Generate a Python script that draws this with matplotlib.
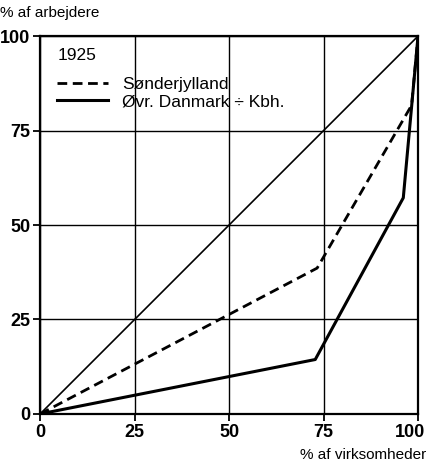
import matplotlib.pyplot as plt
from matplotlib.transforms import ScaledTranslation

# Lorenz-type curves, 1925
diag_x = [0, 100]
diag_y = [0, 100]

sj_x = [0, 73.3, 98.3, 100]
sj_y = [0, 38.6, 81.7, 100]

dk_x = [0, 72.8, 96.1, 100]
dk_y = [0, 14.4, 57.2, 100]

ticks = [0, 25, 50, 75, 100]

plt.rcParams['font.family'] = ['Liberation Sans', 'DejaVu Sans']

fig = plt.figure(figsize=(4.27, 4.63), dpi=100)
ax = fig.add_axes([0.094, 0.106, 0.885, 0.816])

ax.plot(diag_x, diag_y, color='black', lw=1.2)
ax.plot(sj_x, sj_y, color='black', lw=2.0, ls=(0, (3.5, 2)), label='Sønderjylland')
ax.plot(dk_x, dk_y, color='black', lw=2.2, label='Øvr. Danmark ÷ Kbh.')

ax.set_xlim(0, 100)
ax.set_ylim(0, 100)
ax.set_xticks(ticks)
ax.set_yticks(ticks)
ax.grid(True, color='black', lw=1.0)
for s in ax.spines.values():
    s.set_linewidth(1.6)
ax.tick_params(axis='both', length=5, width=1.3, labelsize=13, pad=2)
for lab in ax.get_xticklabels() + ax.get_yticklabels():
    lab.set_fontweight('bold')
# keep the last x label inside the figure
last = ax.get_xticklabels()[-1]
last.set_transform(last.get_transform() + ScaledTranslation(-8 / 100, 0, fig.dpi_scale_trans))

ax.text(0.045, 0.968, '1925', transform=ax.transAxes, fontsize=12.5, va='top', ha='left')
ax.legend(loc='upper left', bbox_to_anchor=(0.0, 0.937), frameon=False, fontsize=12.5,
          handlelength=2.9, handletextpad=0.8, borderaxespad=0.6, labelspacing=0.1)

fig.text(0.0, 0.988, '% af arbejdere', fontsize=11, va='top', ha='left')
fig.text(0.998, 0.003, '% af virksomheder', fontsize=11, va='bottom', ha='right')

fig.savefig('out.png', dpi=100)
